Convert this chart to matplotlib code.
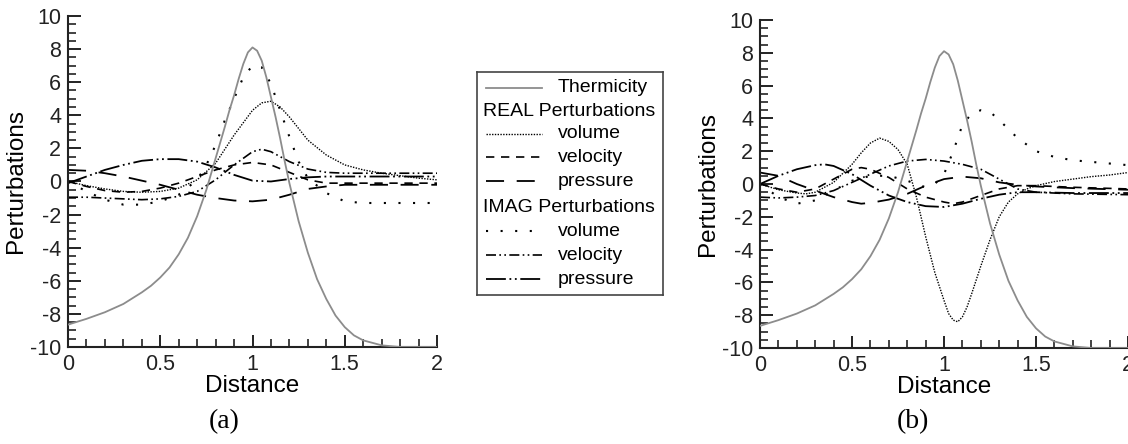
import numpy as np
import matplotlib.pyplot as plt
from matplotlib.ticker import MultipleLocator

plt.rcParams['font.family'] = ['Liberation Sans', 'DejaVu Sans']
plt.rcParams['axes.unicode_minus'] = False

# thermicity (same in both panels)
x_th = [0, 0.1, 0.2, 0.3, 0.4, 0.45, 0.5, 0.55, 0.6, 0.65, 0.7, 0.75, 0.8, 0.85, 0.875, 0.9, 0.925,
        0.95, 0.975, 1.0, 1.025, 1.05, 1.075, 1.1, 1.125, 1.15, 1.175, 1.2, 1.25, 1.3, 1.35, 1.4,
        1.45, 1.5, 1.55, 1.6, 1.7, 1.8, 1.9, 2.0]
y_th = [-8.65, -8.3, -7.9, -7.4, -6.7, -6.3, -5.8, -5.2, -4.4, -3.4, -2.1, -0.5, 1.4, 3.3, 4.3, 5.2, 6.2,
        7.1, 7.8, 8.1, 7.9, 7.3, 6.3, 5.1, 3.9, 2.6, 1.2, -0.1, -2.4, -4.3, -5.9, -7.1,
        -8.1, -8.8, -9.3, -9.6, -9.9, -10.0, -10.0, -10.0]

# panel (a)
a_re_vol_x = [0, 0.1, 0.2, 0.3, 0.4, 0.5, 0.6, 0.7, 0.8, 0.9, 1.0, 1.05, 1.1, 1.15, 1.2, 1.3, 1.4, 1.5,
              1.6, 1.7, 1.8, 1.9, 2.0]
a_re_vol_y = [0.0, -0.25, -0.45, -0.6, -0.65, -0.6, -0.4, 0.1, 1.1, 2.8, 4.3, 4.75, 4.85, 4.5, 3.9, 2.5,
              1.6, 1.0, 0.7, 0.5, 0.35, 0.2, 0.1]
a_re_vel_x = [0, 0.1, 0.2, 0.3, 0.4, 0.5, 0.6, 0.7, 0.8, 0.9, 1.0, 1.1, 1.2, 1.3, 1.4, 1.5, 1.7, 2.0]
a_re_vel_y = [0.0, -0.3, -0.55, -0.65, -0.6, -0.4, -0.1, 0.3, 0.7, 1.0, 1.15, 1.0, 0.55, 0.1, -0.1, -0.1, -0.1, -0.1]
a_re_pre_x = [0, 0.1, 0.2, 0.3, 0.4, 0.5, 0.6, 0.7, 0.8, 0.9, 1.0, 1.1, 1.2, 1.3, 1.4, 1.5, 1.7, 2.0]
a_re_pre_y = [0.7, 0.65, 0.5, 0.3, 0.05, -0.2, -0.5, -0.8, -1.0, -1.15, -1.2, -1.1, -0.8, -0.45, -0.3, -0.2, -0.2, -0.2]
a_im_vol_x = [0, 0.1, 0.2, 0.3, 0.4, 0.5, 0.6, 0.7, 0.75, 0.8, 0.85, 0.9, 0.95, 1.0, 1.05, 1.1,
              1.15, 1.2, 1.25, 1.3, 1.4, 1.5, 1.6, 1.8, 2.0]
a_im_vol_y = [0.0, -0.6, -1.1, -1.4, -1.4, -1.2, -0.8, 0.1, 1.0, 2.2, 3.7, 5.0, 6.3, 7.0, 6.9, 5.9,
              4.3, 2.7, 1.2, 0.2, -0.7, -1.2, -1.3, -1.3, -1.3]
a_im_vel_x = [0, 0.1, 0.2, 0.3, 0.4, 0.5, 0.6, 0.7, 0.8, 0.9, 1.0, 1.05, 1.1, 1.2, 1.3, 1.4, 1.5, 1.7, 2.0]
a_im_vel_y = [-0.95, -0.95, -1.0, -1.05, -1.1, -1.05, -0.9, -0.6, 0.1, 1.0, 1.8, 1.95, 1.8, 1.2, 0.75, 0.55, 0.5, 0.5, 0.5]
a_im_pre_x = [0, 0.1, 0.2, 0.3, 0.4, 0.5, 0.6, 0.7, 0.8, 0.9, 1.0, 1.1, 1.2, 1.3, 1.4, 1.6, 1.8, 2.0]
a_im_pre_y = [-0.1, 0.3, 0.7, 1.0, 1.25, 1.35, 1.35, 1.2, 0.85, 0.4, 0.05, 0.0, 0.15, 0.25, 0.3, 0.3, 0.3, 0.3]

# panel (b)
b_re_vol_x = [0, 0.1, 0.2, 0.25, 0.3, 0.4, 0.5, 0.55, 0.6, 0.65, 0.7, 0.75, 0.8, 0.85, 0.9, 0.95, 1.0,
              1.025, 1.05, 1.075, 1.1, 1.125, 1.15, 1.2, 1.25, 1.3, 1.35, 1.4, 1.45, 1.5, 1.6, 1.7,
              1.8, 1.9, 2.0]
b_re_vol_y = [0.0, -0.35, -0.55, -0.6, -0.5, 0.1, 1.2, 1.9, 2.5, 2.8, 2.6, 2.1, 1.2, -0.8, -3.2, -5.4, -7.1,
              -7.9, -8.3, -8.4, -8.1, -7.5, -6.7, -5.0, -3.4, -2.0, -1.1, -0.6, -0.3, -0.1, 0.15, 0.3,
              0.45, 0.55, 0.7]
b_re_vel_x = [0, 0.1, 0.2, 0.3, 0.4, 0.5, 0.55, 0.6, 0.7, 0.8, 0.9, 1.0, 1.05, 1.1, 1.2, 1.3, 1.4, 1.5, 1.7, 2.0]
b_re_vel_y = [0.0, -0.3, -0.5, -0.3, 0.3, 0.9, 1.0, 0.9, 0.4, -0.3, -0.8, -1.1, -1.2, -1.1, -0.7, -0.3, -0.1, -0.1, -0.2, -0.3]
b_re_pre_x = [0, 0.1, 0.2, 0.3, 0.4, 0.5, 0.55, 0.6, 0.7, 0.8, 0.9, 1.0, 1.1, 1.2, 1.3, 1.4, 1.5, 1.7, 2.0]
b_re_pre_y = [0.7, 0.5, 0.0, -0.4, -0.8, -1.1, -1.2, -1.15, -0.95, -0.6, -0.1, 0.3, 0.45, 0.35, 0.1, -0.05, -0.15, -0.25, -0.35]
b_im_vol_x = [0, 0.1, 0.2, 0.3, 0.4, 0.5, 0.6, 0.7, 0.8, 0.9, 0.95, 1.0, 1.05, 1.1, 1.15, 1.2, 1.25,
              1.3, 1.4, 1.5, 1.6, 1.7, 1.8, 1.9, 2.0]
b_im_vol_y = [0.0, -0.8, -1.2, -1.0, -0.4, 0.2, 0.5, 0.5, 0.2, -0.2, 0.0, 0.6, 2.0, 3.6, 4.3, 4.5, 4.4,
              3.9, 2.8, 2.0, 1.65, 1.45, 1.35, 1.25, 1.15]
b_im_vel_x = [0, 0.1, 0.2, 0.3, 0.4, 0.5, 0.6, 0.7, 0.8, 0.9, 1.0, 1.1, 1.2, 1.3, 1.4, 1.5, 1.7, 2.0]
b_im_vel_y = [-0.8, -0.85, -0.8, -0.7, -0.4, 0.1, 0.6, 1.1, 1.4, 1.5, 1.4, 1.2, 0.9, 0.3, -0.3, -0.5, -0.6, -0.65]
b_im_pre_x = [0, 0.1, 0.2, 0.3, 0.35, 0.4, 0.5, 0.6, 0.7, 0.8, 0.9, 1.0, 1.1, 1.2, 1.3, 1.4, 1.5, 1.7, 2.0]
b_im_pre_y = [0.0, 0.5, 0.9, 1.15, 1.2, 1.1, 0.6, -0.1, -0.7, -1.1, -1.35, -1.4, -1.2, -0.9, -0.65, -0.5, -0.5, -0.55, -0.55]

gray = '#8c8c8c'
styles = {
    're_vol': dict(color='k', lw=1.0, ls=(0, (1, 1))),
    're_vel': dict(color='k', lw=1.2, ls=(0, (5, 4))),
    're_pre': dict(color='k', lw=1.3, ls=(0, (10, 7))),
    'im_vol': dict(color='k', lw=1.5, ls=(0, (1, 6))),
    'im_vel': dict(color='k', lw=1.2, ls=(0, (6, 2, 1, 2, 1, 2))),
    'im_pre': dict(color='k', lw=1.3, ls=(0, (11, 2, 1, 2, 1, 2))),
}

fig = plt.figure(figsize=(11.28, 4.44), dpi=100)
ax_a = fig.add_axes([0.0603, 0.2185, 0.3271, 0.7455])
ax_b = fig.add_axes([0.6738, 0.2162, 0.3262, 0.7387])

panels = [
    (ax_a, [(a_re_vol_x, a_re_vol_y, 're_vol'), (a_re_vel_x, a_re_vel_y, 're_vel'),
            (a_re_pre_x, a_re_pre_y, 're_pre'), (a_im_vol_x, a_im_vol_y, 'im_vol'),
            (a_im_vel_x, a_im_vel_y, 'im_vel'), (a_im_pre_x, a_im_pre_y, 'im_pre')]),
    (ax_b, [(b_re_vol_x, b_re_vol_y, 're_vol'), (b_re_vel_x, b_re_vel_y, 're_vel'),
            (b_re_pre_x, b_re_pre_y, 're_pre'), (b_im_vol_x, b_im_vol_y, 'im_vol'),
            (b_im_vel_x, b_im_vel_y, 'im_vel'), (b_im_pre_x, b_im_pre_y, 'im_pre')]),
]

for ax, curves in panels:
    ax.plot(x_th, y_th, color=gray, lw=1.3, zorder=3)
    for xs, ys, key in curves:
        ax.plot(xs, ys, **styles[key])
    ax.set_xlim(0, 2)
    ax.set_ylim(-10, 10)
    ax.xaxis.set_minor_locator(MultipleLocator(0.1))
    ax.yaxis.set_major_locator(MultipleLocator(2))
    ax.yaxis.set_minor_locator(MultipleLocator(0.5))
    ax.set_xticks([0, 0.5, 1, 1.5, 2])
    ax.set_xticklabels(['0', '0.5', '1', '1.5', '2'])
    ax.spines['top'].set_visible(False)
    ax.spines['right'].set_visible(False)
    for s in ('left', 'bottom'):
        ax.spines[s].set_linewidth(1.5)
        ax.spines[s].set_color('#222222')
    ax.tick_params(which='major', direction='in', length=9, width=1.4, labelsize=15.5,
                   colors='#222222', pad=5)
    ax.tick_params(which='minor', direction='in', length=5.5, width=1.2, colors='#222222')
    ax.set_xlabel('Distance', fontsize=17.5, labelpad=0)
    ax.set_ylabel('Perturbations', fontsize=17.5, labelpad=2)

fig.text(0.199, 0.05, '(a)', family='Liberation Serif', fontsize=20, ha='center', va='center')
fig.text(0.809, 0.05, '(b)', family='Liberation Serif', fontsize=20, ha='center', va='center')

# legend box drawn in its own axes (pixel layout 477..663 x 72..295)
lg = fig.add_axes([477 / 1128, 1 - 295 / 444, 186 / 1128, 223 / 444])
lg.set_xlim(0, 186)
lg.set_ylim(223, 0)
lg.set_xticks([])
lg.set_yticks([])
for s in lg.spines.values():
    s.set_linewidth(1.2)
    s.set_color('#444444')

legend_rows = [
    ('Thermicity', 'th'),
    ('REAL Perturbations', None),
    ('volume', 're_vol'),
    ('velocity', 're_vel'),
    ('pressure', 're_pre'),
    ('IMAG Perturbations', None),
    ('volume', 'im_vol'),
    ('velocity', 'im_vel'),
    ('pressure', 'im_pre'),
]
row_y = [16, 40, 62, 85, 109, 135, 159, 183, 207]
for (label, key), yy in zip(legend_rows, row_y):
    if key is None:
        lg.text(6, yy, label, fontsize=14, va='center', ha='left')
        continue
    st = dict(color=gray, lw=1.3, ls='-') if key == 'th' else styles[key]
    lg.plot([9, 65], [yy, yy], **st)
    lg.text(81, yy, label, fontsize=14, va='center', ha='left')

fig.savefig('out.png', dpi=100)
